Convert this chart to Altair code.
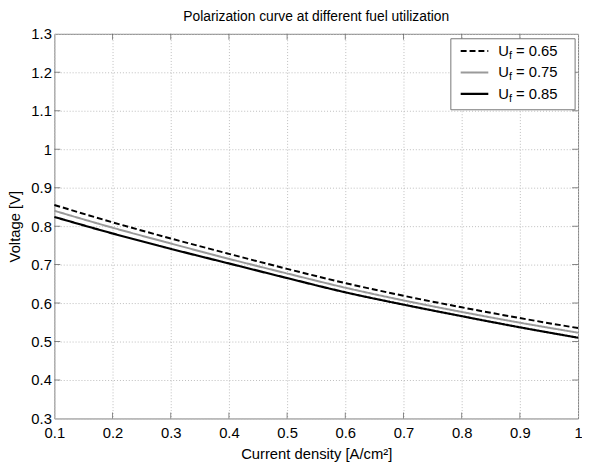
import altair as alt
import pandas as pd

# ---- data ----
current = [0.1, 0.2, 0.3, 0.4, 0.5, 0.6, 0.7, 0.8, 0.9, 1.0]
v_065 = [0.855, 0.810, 0.768, 0.728, 0.689, 0.652, 0.619, 0.589, 0.561, 0.535]
v_075 = [0.840, 0.796, 0.755, 0.715, 0.677, 0.640, 0.607, 0.577, 0.549, 0.523]
v_085 = [0.824, 0.781, 0.741, 0.703, 0.665, 0.628, 0.596, 0.566, 0.537, 0.510]
series_labels = ["0.65", "0.75", "0.85"]
x_ticks = [0.1, 0.2, 0.3, 0.4, 0.5, 0.6, 0.7, 0.8, 0.9, 1.0]
y_ticks = [0.3, 0.4, 0.5, 0.6, 0.7, 0.8, 0.9, 1.0, 1.1, 1.2, 1.3]

title = "Polarization curve at different fuel utilization"
x_title = "Current density [A/cm²]"
y_title = "Voltage [V]"

W, H = 531, 390
FONT = "Liberation Sans"

styles = [
    dict(color="black", dash=[6, 3], width=2),
    dict(color="#9a9a9a", dash=[1, 0], width=2),
    dict(color="black", dash=[1, 0], width=2.2),
]

xs = alt.Scale(domain=[0.1, 1.0], nice=False, zero=False)
ys = alt.Scale(domain=[0.3, 1.3], nice=False, zero=False)

x_axis = alt.Axis(values=x_ticks, format="~g", title=x_title, labelFontSize=15,
                  titleFontSize=15, labelPadding=7, titlePadding=7, labelOverlap=False,
                  labelFlush=False)
y_axis = alt.Axis(values=y_ticks, format="~g", title=y_title, labelFontSize=15,
                  titleFontSize=15, labelPadding=3, titlePadding=8, labelOverlap=False,
                  labelFlush=False)

layers = []
for vals, st in zip([v_065, v_075, v_085], styles):
    df = pd.DataFrame({"x": current, "v": vals})
    layers.append(
        alt.Chart(df).mark_line(color=st["color"], strokeDash=st["dash"],
                                strokeWidth=st["width"], interpolate="monotone")
        .encode(x=alt.X("x:Q", scale=xs, axis=x_axis),
                y=alt.Y("v:Q", scale=ys, axis=y_axis))
    )

# inside tick marks (MATLAB style)
xt = pd.DataFrame({"x": x_ticks[1:-1]})
yt = pd.DataFrame({"v": y_ticks[1:-1]})
for yv in [0, H]:
    layers.append(alt.Chart(xt).mark_tick(clip=True, size=12, thickness=1, color="#555")
                  .encode(x=alt.X("x:Q", scale=xs, axis=x_axis), y=alt.value(yv)))
for xv in [0, W]:
    layers.append(alt.Chart(yt).mark_tick(clip=True, size=12, thickness=1, color="#555")
                  .encode(y=alt.Y("v:Q", scale=ys, axis=y_axis), x=alt.value(xv)))

# legend box
box = pd.DataFrame({"a": [0]})
layers.append(alt.Chart(box).mark_rect(fill="white", stroke="#777", strokeWidth=1)
              .encode(x=alt.value(402), x2=alt.value(528), y=alt.value(5), y2=alt.value(77)))
for i, (lab, st) in enumerate(zip(series_labels, styles)):
    yy = 17.5 + i * 21.7
    layers.append(alt.Chart(box).mark_rule(color=st["color"], strokeDash=st["dash"],
                                           strokeWidth=st["width"])
                  .encode(x=alt.value(412), x2=alt.value(440), y=alt.value(yy)))
    layers.append(alt.Chart(box).mark_text(text="U", font=FONT, fontSize=15, align="left",
                                           baseline="middle", color="black")
                  .encode(x=alt.value(450), y=alt.value(yy)))
    layers.append(alt.Chart(box).mark_text(text="f", font=FONT, fontSize=11, align="left",
                                           baseline="middle", color="black")
                  .encode(x=alt.value(461), y=alt.value(yy + 5)))
    layers.append(alt.Chart(box).mark_text(text="= " + lab, font=FONT, fontSize=15, align="left",
                                           baseline="middle", color="black")
                  .encode(x=alt.value(468), y=alt.value(yy)))

chart = alt.layer(*layers).properties(
    width=W, height=H,
    title=alt.TitleParams(title, fontSize=14, font=FONT, fontWeight="normal",
                          color="black", offset=3, frame="group"),
    autosize=alt.AutoSizeParams(type="none"),
    padding={"left": 47, "top": 23, "right": 4, "bottom": 45},
).configure_view(stroke="#808080", strokeWidth=1).configure_axis(
    labelFont=FONT, titleFont=FONT, labelColor="black", titleColor="black",
    titleFontWeight="normal", domain=False, ticks=False,
    grid=True, gridColor="#bdbdbd", gridDash=[1, 2], gridWidth=1,
)

chart.save("out.html", embed_options={"renderer": "svg", "actions": False})
